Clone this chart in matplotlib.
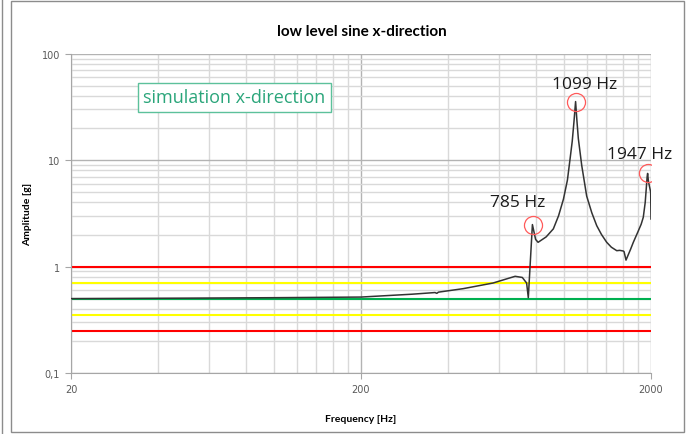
import numpy as np
import matplotlib.pyplot as plt
from matplotlib.patches import Rectangle
from matplotlib.ticker import FixedLocator, NullFormatter

# Data ---------------------------------------------------------------------------------------
freq = [20, 50, 100, 200, 300, 360, 365, 370, 450, 570, 680, 720, 745, 755,
        780, 800, 816, 870, 921, 960, 998, 1030, 1052, 1070, 1085, 1099,
        1110, 1123, 1154, 1200, 1250, 1300, 1350, 1407, 1460, 1524, 1560,
        1605, 1615, 1640, 1700, 1738, 1800, 1850, 1881, 1910, 1924, 1940,
        1947, 1960, 1995, 2000]
amp = [0.50, 0.505, 0.51, 0.517, 0.55, 0.57, 0.56, 0.575, 0.62, 0.70, 0.81,
       0.79, 0.70, 0.51, 2.48, 1.80, 1.69, 1.90, 2.26, 3.0, 4.3, 6.5, 10.3,
       15.0, 23.0, 35.5, 24.0, 16.0, 8.9, 4.6, 3.2, 2.42, 2.0, 1.69, 1.52,
       1.41, 1.42, 1.40, 1.38, 1.15, 1.45, 1.69, 2.1, 2.5, 2.9, 4.0, 5.2,
       7.0, 7.5, 6.3, 5.0, 2.8]

# limit lines (+-3 dB and +-6 dB around 0.5 g)
limit_levels = [1.0, 0.707, 0.5, 0.354, 0.25]
limit_colors = ['#ff0000', '#ffff00', '#00b050', '#ffff00', '#ff0000']

peak_freq = [785, 1099, 1947]
peak_amp = [2.48, 35.5, 7.5]
peak_labels = ['785 Hz', '1099 Hz', '1947 Hz']
label_offsets = [(-11, 16.5), (6.5, 12.7), (-6, 13.7)]   # points

x_ticks = [20, 200, 2000]
x_ticklabels = ['20', '200', '2000']
y_ticks = [0.1, 1, 10, 100]
y_ticklabels = ['0,1', '1', '10', '100']

# Figure -------------------------------------------------------------------------------------
fig = plt.figure(figsize=(6.92, 4.35), dpi=100)
ax = fig.add_axes([71/692, 1 - 374/435, 580/692, 319.3/435])

# outer chart frame
fig.patches.append(Rectangle((11/692, 2/435), 673/692, 431/435, transform=fig.transFigure,
                             fill=False, edgecolor='#8c8c8c', lw=1.0))
fig.lines.append(plt.Line2D([2/692, 2/692], [0, 1], transform=fig.transFigure,
                            color='#8c8c8c', lw=1.0))

ax.set_xscale('log')
ax.set_yscale('log')
ax.set_xlim(20, 2000)
ax.set_ylim(0.1, 100)

ax.xaxis.set_major_locator(FixedLocator(x_ticks))
ax.set_xticklabels(x_ticklabels)
ax.xaxis.set_minor_locator(FixedLocator(list(range(40, 200, 20)) + list(range(400, 2000, 200))))
ax.xaxis.set_minor_formatter(NullFormatter())
ax.yaxis.set_major_locator(FixedLocator(y_ticks))
ax.set_yticklabels(y_ticklabels)
ax.yaxis.set_minor_locator(FixedLocator([m * d for d in (0.1, 1, 10) for m in range(2, 10)]))
ax.yaxis.set_minor_formatter(NullFormatter())

ax.grid(which='minor', color='#d9d9d9', lw=1.0)
ax.grid(which='major', color='#b3b3b3', lw=1.0)
ax.tick_params(which='major', length=4, color='#a6a6a6', labelsize=7, labelcolor='#595959', pad=4)
ax.tick_params(which='minor', length=0)
for s in ['top', 'right']:
    ax.spines[s].set_visible(False)
for s in ['left', 'bottom']:
    ax.spines[s].set_color('#a6a6a6')

# limit lines
for lvl, c in zip(limit_levels, limit_colors):
    ax.axhline(lvl, color=c, lw=1.5, zorder=2)

# response curve
ax.plot(freq, amp, color='#333333', lw=1.1, zorder=3)

# peak markers
for f, a, lab, off in zip(peak_freq, peak_amp, peak_labels, label_offsets):
    ax.plot(f, a, 'o', ms=13, mfc='none', mec='#ff5a5a', mew=0.9, zorder=4)
    ax.annotate(lab, (f, a), xytext=off, textcoords='offset points',
                ha='center', va='center', fontsize=12.5, family='Open Sans', color='#1a1a1a')

ax.text(0.124, 0.864, 'simulation x-direction', transform=ax.transAxes, fontsize=13,
        family='Open Sans', color='#2aa57a', va='center', ha='left',
        bbox=dict(boxstyle='square,pad=0.3', fc='white', ec='#5cc19b', lw=1.0))

fig.text(362/692, 1 - 32/435, 'low level sine x-direction', ha='center', va='center',
         fontsize=11, fontweight='bold', family='Lato')
ax.set_xlabel('Frequency [Hz]', fontsize=7.5, fontweight='bold', family='Lato', labelpad=14)
ax.set_ylabel('Amplitude [g]', fontsize=7.5, fontweight='bold', family='Lato', labelpad=7)

plt.savefig('out.png', dpi=100)
